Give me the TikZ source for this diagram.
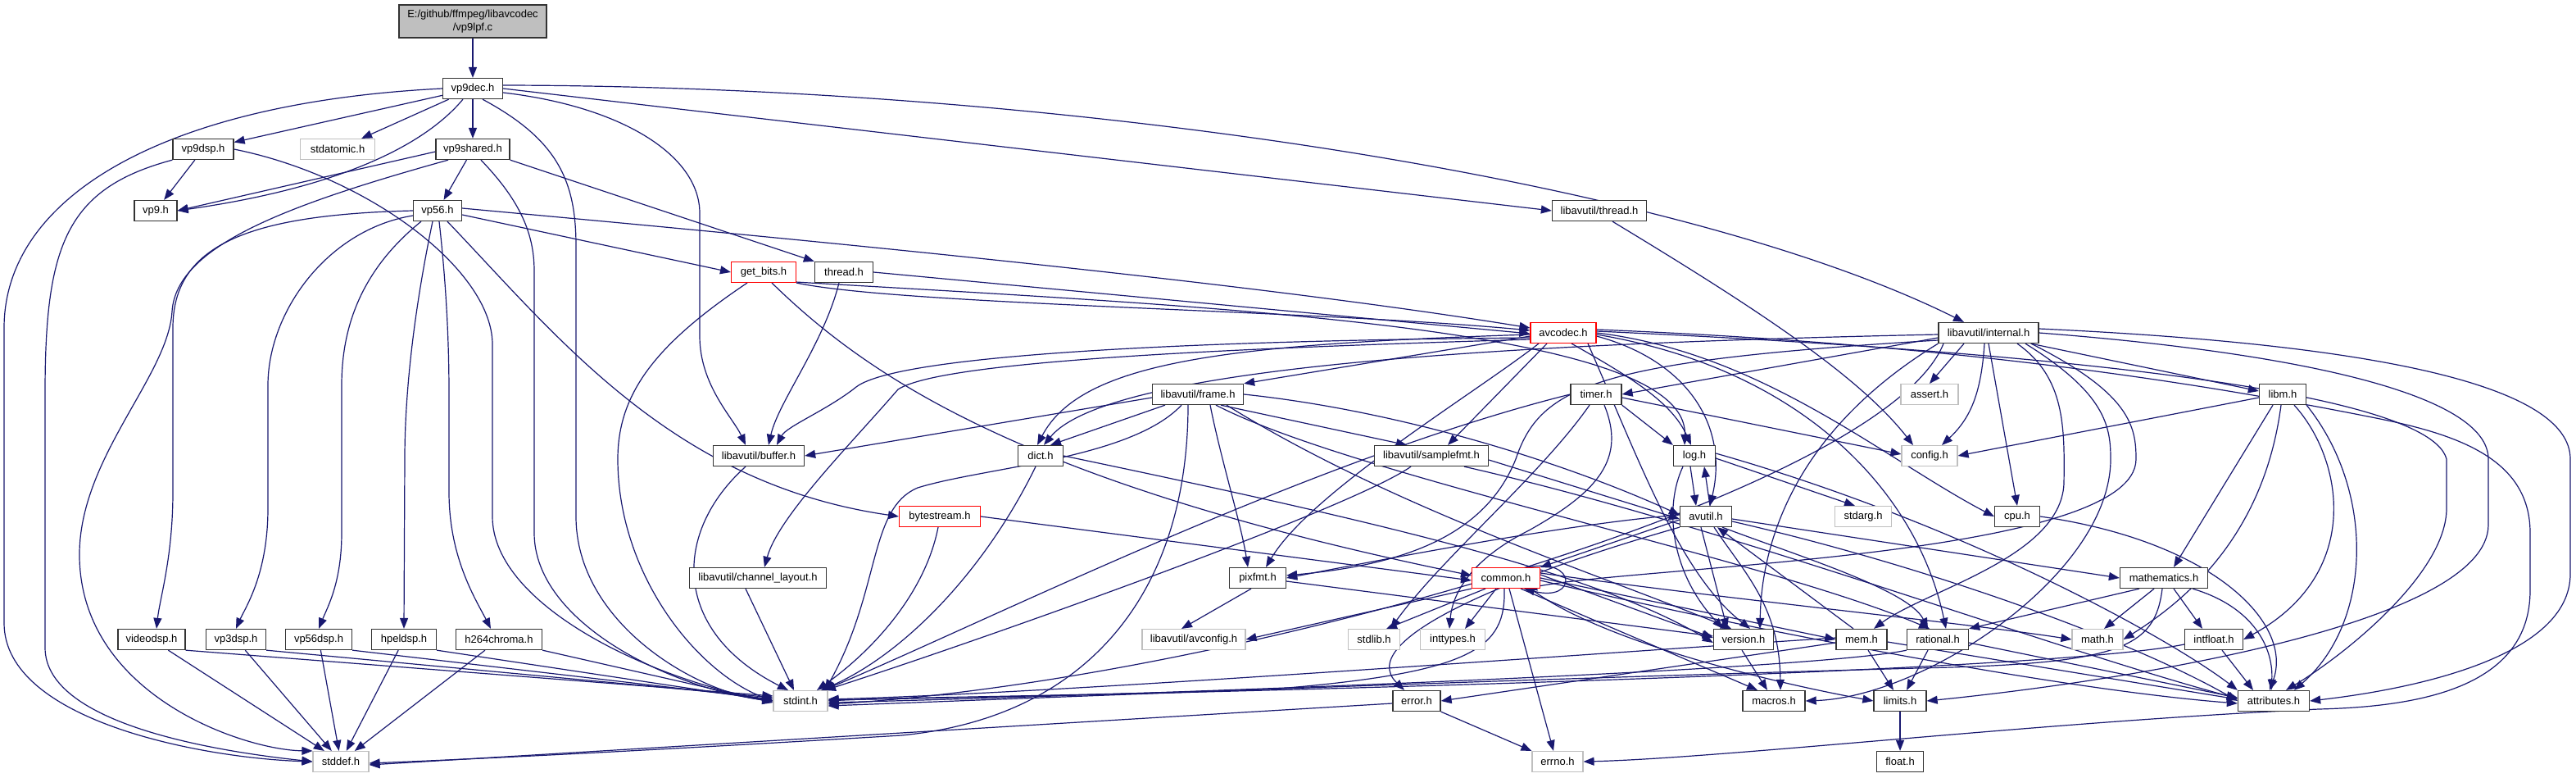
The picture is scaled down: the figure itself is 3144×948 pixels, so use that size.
\documentclass[tikz,border=0pt]{standalone}
\usepackage{fontspec}
\setmainfont{Liberation Sans}
\usetikzlibrary{arrows.meta}
\definecolor{edgeblue}{HTML}{191970}
\definecolor{boxgray}{HTML}{BFBFBF}
\pgfdeclarelayer{bg}
\pgfsetlayers{bg,main}
\newcommand\lab{\fontsize{13}{16}\selectfont}
\tikzset{
 nb/.style={draw=black!80, line width=1.3pt, fill=white, minimum height=25pt, inner sep=0pt, font=\lab},
 ng/.style={nb, draw=boxgray, line width=1.1pt},
 nr/.style={nb, draw=red, line width=1.1pt},
 edg/.style={draw=edgeblue, line width=1.2pt, -{Triangle[length=13pt,width=10pt]}},
}
\begin{document}
\begin{tikzpicture}[x=1pt,y=-1pt]
\useasboundingbox (0,0) rectangle (3144,948);
\node[nb, fill=boxgray, minimum width=180pt, minimum height=40pt, align=center] (root) at (577,26) {E:/github/ffmpeg/libavcodec\\/vp9lpf.c};
\node[nb, minimum width=73pt] (vp9dec) at (577,108) {vp9dec.h};
\node[nb, minimum width=74pt] (vp9dsp) at (248,182) {vp9dsp.h};
\node[ng, minimum width=91pt] (stdatomic) at (412,182) {stdatomic.h};
\node[nb, minimum width=90pt] (vp9shared) at (577,182) {vp9shared.h};
\node[nb, minimum width=52pt] (vp9) at (190,257) {vp9.h};
\node[nb, minimum width=59pt] (vp56) at (534,257) {vp56.h};
\node[nb, minimum width=115pt] (lthread) at (1952,257) {libavutil/thread.h};
\node[nr, minimum width=79pt] (getbits) at (932,332) {get\_bits.h};
\node[nb, minimum width=71pt] (thread) at (1030,332) {thread.h};
\node[nr, minimum width=80pt] (avcodec) at (1908,406) {avcodec.h};
\node[nb, minimum width=122pt] (internal) at (2427,406) {libavutil/internal.h};
\node[nb, minimum width=111pt] (frame) at (1462,481) {libavutil/frame.h};
\node[nb, minimum width=62pt] (timer) at (1948,481) {timer.h};
\node[ng, minimum width=70pt] (assert) at (2355,481) {assert.h};
\node[nb, minimum width=57pt] (libm) at (2786,481) {libm.h};
\node[nb, minimum width=111pt] (buffer) at (926,556) {libavutil/buffer.h};
\node[nb, minimum width=55pt] (dict) at (1270,556) {dict.h};
\node[nb, minimum width=139pt] (samplefmt) at (1747,556) {libavutil/samplefmt.h};
\node[nb, minimum width=51pt] (log) at (2068,556) {log.h};
\node[ng, minimum width=68pt] (config) at (2355,556) {config.h};
\node[nr, minimum width=99pt] (bytestream) at (1147,630) {bytestream.h};
\node[nb, minimum width=63pt] (avutil) at (2082,630) {avutil.h};
\node[ng, minimum width=69pt] (stdarg) at (2274,630) {stdarg.h};
\node[nb, minimum width=55pt] (cpu) at (2462,630) {cpu.h};
\node[nb, minimum width=167pt] (chlayout) at (925,705) {libavutil/channel\_layout.h};
\node[nb, minimum width=69pt] (pixfmt) at (1535,705) {pixfmt.h};
\node[nr, minimum width=83pt] (common) at (1838,705) {common.h};
\node[nb, minimum width=107pt] (mathematics) at (2641,705) {mathematics.h};
\node[nb, minimum width=82pt] (videodsp) at (185,780) {videodsp.h};
\node[nb, minimum width=73pt] (vp3dsp) at (288,780) {vp3dsp.h};
\node[nb, minimum width=81pt] (vp56dsp) at (389,780) {vp56dsp.h};
\node[nb, minimum width=79pt] (hpeldsp) at (493,780) {hpeldsp.h};
\node[nb, minimum width=105pt] (h264chroma) at (609,780) {h264chroma.h};
\node[ng, minimum width=126pt] (avconfig) at (1457,780) {libavutil/avconfig.h};
\node[ng, minimum width=63pt] (stdlib) at (1677,780) {stdlib.h};
\node[ng, minimum width=79pt] (inttypes) at (1773,780) {inttypes.h};
\node[nb, minimum width=73pt] (version) at (2128,780) {version.h};
\node[nb, minimum width=62pt] (mem) at (2272,780) {mem.h};
\node[nb, minimum width=75pt] (rational) at (2365,780) {rational.h};
\node[ng, minimum width=62pt] (math) at (2560,780) {math.h};
\node[nb, minimum width=71pt] (intfloat) at (2702,780) {intfloat.h};
\node[ng, minimum width=66pt] (stdint) at (977,855) {stdint.h};
\node[nb, minimum width=58pt] (error) at (1729,855) {error.h};
\node[nb, minimum width=76pt] (macros) at (2165,855) {macros.h};
\node[nb, minimum width=64pt] (limits) at (2319,855) {limits.h};
\node[nb, minimum width=87pt] (attributes) at (2775,855) {attributes.h};
\node[ng, minimum width=68pt] (stddef) at (416,929) {stddef.h};
\node[ng, minimum width=62pt] (errno) at (1901,929) {errno.h};
\node[nb, minimum width=57pt] (float) at (2319,929) {float.h};

\begin{pgfonlayer}{bg}
\fill[white] (0,0) rectangle (3144,948);
% root
\draw[edg] (root) -- (vp9dec);
% vp9dec
\draw[edg] (vp9dec) -- (vp9dsp);
\draw[edg] (vp9dec) -- (stdatomic);
\draw[edg] (vp9dec) -- (vp9shared);
\draw[edg] ([xshift=-12pt]vp9dec.south) .. controls (520,175) and (420,228) .. (vp9.east);
\draw[edg] (vp9dec.west) .. controls (200,125) and (5,240) .. (5,400) -- (5,760) .. controls (5,880) and (250,925) .. (stddef.west);
\draw[edg] ([xshift=12pt]vp9dec.south) .. controls (680,170) and (703,220) .. (703,300) -- (703,630) .. controls (703,760) and (850,845) .. (stdint.west);
\draw[edg] ([yshift=-5pt]vp9dec.east) .. controls (760,130) and (854,190) .. (854,260) -- (854,410) .. controls (854,470) and (895,510) .. ([xshift=-16pt]buffer.north);
\draw[edg] (vp9dec.east) -- (lthread.west);
\draw[edg] ([yshift=4pt]vp9dec.east) .. controls (1300,105) and (2050,220) .. ([xshift=-30pt]internal.north);
% vp9dsp
\draw[edg] (vp9dsp) -- (vp9);
\draw[edg] (vp9dsp.south west) .. controls (80,230) and (55,300) .. (55,480) -- (55,790) .. controls (55,880) and (250,915) .. (stddef.west);
\draw[edg] (vp9dsp.east) .. controls (450,215) and (601,330) .. (601,420) -- (601,630) .. controls (601,740) and (800,830) .. (stdint.west);
% vp9shared
\draw[edg] ([yshift=-3pt]vp9shared.west) -- (vp9.east);
\draw[edg] (vp9shared) -- (vp56);
\draw[edg] (vp9shared.south east) -- (thread.north west);
\draw[edg] ([xshift=10pt]vp9shared.south) .. controls (630,240) and (652,280) .. (652,330) -- (652,650) .. controls (652,760) and (820,840) .. (stdint.west);
\draw[edg] ([xshift=-30pt]vp9shared.south) .. controls (350,250) and (215,300) .. (210,380) .. controls (205,460) and (95,560) .. (97,680) .. controls (100,850) and (300,915) .. (stddef.north west);
% vp56
\draw[edg] (vp56.west) .. controls (300,262) and (211,300) .. (211,400) -- (211,600) .. controls (211,680) and (195,730) .. ([xshift=6pt]videodsp.north);
\draw[edg] ([yshift=-6pt]vp56.west) .. controls (400,280) and (327,380) .. (327,470) -- (327,620) .. controls (327,700) and (300,740) .. (vp3dsp.north);
\draw[edg] ([xshift=-20pt]vp56.south) .. controls (440,330) and (417,400) .. (417,470) -- (417,650) .. controls (417,710) and (400,740) .. (vp56dsp.north);
\draw[edg] ([xshift=-6pt]vp56.south) .. controls (505,380) and (494,480) .. (494,560) -- (hpeldsp.north);
\draw[edg] ([xshift=2pt]vp56.south) .. controls (545,350) and (548,420) .. (548,480) -- (548,600) .. controls (548,680) and (580,730) .. ([xshift=-10pt]h264chroma.north);
\draw[edg] ([xshift=12pt]vp56.south) .. controls (680,410) and (820,590) .. (bytestream.west);
\draw[edg] ([yshift=-5pt]vp56.east) -- (getbits.west);
\draw[edg] ([yshift=3pt]vp56.east) .. controls (900,285) and (1500,340) .. ([yshift=6pt]avcodec.west);
% dsp boxes
\foreach \n/\s in {videodsp/6,vp3dsp/4,vp56dsp/2,hpeldsp/0,h264chroma/-2}{
  \draw[edg] (\n) -- (stddef);
  \draw[edg] (\n.south east) -- ([yshift=\s pt]stdint.west);
}
% get_bits
\draw[edg] ([xshift=-20pt]getbits.south) .. controls (800,420) and (754,480) .. (754,560) .. controls (754,700) and (850,820) .. (stdint.west);
\draw[edg] ([xshift=10pt]getbits.south) .. controls (1060,460) and (1250,590) .. ([yshift=3pt]common.west);
\draw[edg] (getbits.south east) .. controls (1100,372) and (1600,378) .. ([yshift=3pt]avcodec.west);
\draw[edg] ([yshift=1pt]getbits.south east) .. controls (1500,375) and (2060,400) .. ([xshift=-12pt]log.north);
% thread
\draw[edg] ([xshift=-6pt]thread.south) .. controls (1005,420) and (950,490) .. ([xshift=12pt]buffer.north);
\draw[edg] (thread.east) -- ([yshift=-1pt]avcodec.west);
% libavutil/thread.h
\draw[edg] ([xshift=16pt]lthread.south) .. controls (2150,380) and (2270,460) .. ([xshift=-20pt]config.north);
% bytestream
\draw[edg] ([xshift=-2pt]bytestream.south) .. controls (1130,720) and (1070,790) .. ([xshift=20pt]stdint.north);
\draw[edg] (bytestream.east) -- ([yshift=-3pt]common.west);
% buffer, channel_layout, dict
\draw[edg] ([xshift=-16pt]buffer.south) .. controls (820,650) and (820,770) .. ([xshift=-15pt]stdint.north);
\draw[edg] ([xshift=-15pt]chlayout.south) -- ([xshift=-8pt]stdint.north);
\draw[edg] ([xshift=-6pt]dict.south) .. controls (1200,700) and (1100,800) .. ([xshift=25pt]stdint.north);
\draw[edg] (dict.east) .. controls (1700,640) and (1950,700) .. ([yshift=-4pt]version.west);
% frame
\draw[edg] ([yshift=-4pt]frame.west) -- (buffer.east);
\draw[edg] ([xshift=-40pt]frame.south) -- ([xshift=12pt]dict.north);
\draw[edg] ([xshift=15pt]frame.south) .. controls (1490,560) and (1515,640) .. ([xshift=-12pt]pixfmt.north);
\draw[edg] ([xshift=28pt]frame.south) -- ([xshift=-30pt]samplefmt.north);
\draw[edg] (frame.east) .. controls (1700,500) and (1900,560) .. ([yshift=2pt]avutil.west);
\draw[edg] ([xshift=22pt]frame.south) .. controls (1650,580) and (2150,680) .. ([xshift=-10pt]rational.north);
\draw[edg] ([xshift=35pt]frame.south) .. controls (1700,620) and (1950,700) .. ([xshift=-15pt]version.north);
\draw[edg] ([xshift=-20pt]frame.south) .. controls (1380,560) and (1200,570) .. (1120,595) .. controls (1060,620) and (1075,720) .. ([xshift=30pt]stdint.north);
\draw[edg] ([xshift=-12pt]frame.south) .. controls (1450,720) and (1330,875) .. (1100,897) .. controls (800,915) and (600,925) .. ([yshift=-2pt]stddef.east);
% avcodec
\draw[edg] ([yshift=-4pt]avcodec.west) -- (frame.north east);
\draw[edg] ([xshift=-20pt]avcodec.south) -- ([xshift=20pt]samplefmt.north);
\draw[edg] ([yshift=-2pt]avcodec.west) .. controls (1500,420) and (1320,440) .. ([xshift=-4pt]dict.north);
\draw[edg] ([yshift=-6pt]avcodec.west) .. controls (1500,415) and (1100,430) .. (1045,472) .. controls (1010,500) and (960,520) .. ([xshift=22pt]buffer.north);
\draw[edg] ([yshift=-8pt]avcodec.west) .. controls (1500,425) and (1150,440) .. (1096,475) .. controls (1040,540) and (950,630) .. ([xshift=8pt]chlayout.north);
\draw[edg] ([xshift=-30pt]avcodec.south) .. controls (1800,480) and (1600,600) .. ([xshift=10pt]pixfmt.north);
\draw[edg] ([xshift=10pt]avcodec.south) .. controls (1990,460) and (2040,490) .. ([xshift=-4pt]log.north);
\draw[edg] ([yshift=-4pt]avcodec.east) .. controls (2060,440) and (2110,520) .. ([xshift=5pt]avutil.north);
\draw[edg] (avcodec.east) .. controls (2150,430) and (2300,560) .. (cpu.west);
\draw[edg] ([yshift=-2pt]avcodec.east) .. controls (2200,450) and (2340,600) .. ([xshift=10pt]rational.north);
\draw[edg] ([yshift=2pt]avcodec.east) .. controls (2300,420) and (2960,460) .. (2986,560) -- (2986,620) .. controls (2986,700) and (2860,800) .. ([xshift=15pt]attributes.north);
\draw[edg] ([yshift=4pt]avcodec.east) .. controls (2400,420) and (2700,470) .. (2900,510) .. controls (3000,530) and (3088,560) .. (3088,650) -- (3088,720) .. controls (3088,840) and (2950,862) .. (2830,865) .. controls (2500,880) and (2100,925) .. (errno.east);
\draw[edg] ([xshift=30pt]avcodec.south) .. controls (2000,560) and (2050,700) .. ([xshift=8pt]version.north);
% internal
\draw[edg] ([xshift=-30pt]internal.south) -- (assert.north);
\draw[edg] ([xshift=-5pt]internal.south) .. controls (2418,480) and (2405,510) .. ([xshift=15pt]config.north);
\draw[edg] (internal.south) -- (cpu.north);
\draw[edg] ([xshift=-10pt]internal.south east) -- ([yshift=4pt]libm.west);
\draw[edg] ([yshift=-6pt]internal.west) -- (timer.east);
\draw[edg] ([yshift=-2pt]internal.west) .. controls (1800,420) and (1350,450) .. ([xshift=4pt]dict.north);
\draw[edg] ([yshift=-9pt]internal.west) .. controls (1950,440) and (1880,470) .. (1850,560) .. controls (1810,660) and (1700,690) .. ([yshift=3pt]pixfmt.east);
\draw[edg] ([xshift=35pt]internal.south) .. controls (2520,460) and (2520,520) .. (2519,590) .. controls (2515,680) and (2350,720) .. ([xshift=15pt]mem.north);
\draw[edg] ([xshift=45pt]internal.south) .. controls (2570,480) and (2576,520) .. (2576,560) .. controls (2576,700) and (2350,850) .. (macros.east);
\draw[edg] ([xshift=52pt]internal.south) .. controls (2600,480) and (2607,520) .. (2607,560) .. controls (2607,680) and (2000,690) .. ([xshift=25pt]common.south);
\draw[edg] (internal.south west) .. controls (2200,520) and (2150,650) .. ([xshift=20pt]version.north);
\draw[edg] ([yshift=5pt]internal.east) .. controls (2900,420) and (3137,470) .. (3137,560) -- (3137,700) .. controls (3137,800) and (2950,840) .. (attributes.east);
\draw[edg] (internal.east) .. controls (2800,430) and (3037,480) .. (3037,560) -- (3037,640) .. controls (3037,760) and (2600,830) .. (limits.east);
\draw[edg] ([xshift=-55pt]internal.south) .. controls (2300,600) and (1500,830) .. ([yshift=-4pt]stdint.east);
% timer
\draw[edg] ([yshift=-4pt]timer.east) -- ([yshift=2pt]config.west);
\draw[edg] (timer.south east) -- (log.north west);
\draw[edg] ([xshift=-8pt]timer.south) .. controls (1880,580) and (1760,680) .. ([xshift=20pt]stdlib.north);
\draw[edg] ([xshift=10pt]timer.south) .. controls (1985,560) and (1950,600) .. (1866,647) .. controls (1800,680) and (1773,720) .. ([xshift=-4pt]inttypes.north);
\draw[edg] (timer.west) .. controls (1600,560) and (1200,760) .. ([xshift=28pt]stdint.north);
% samplefmt
\draw[edg] ([yshift=-5pt]samplefmt.east) -- ([yshift=-3pt]avutil.west);
\draw[edg] ([xshift=40pt]samplefmt.south) .. controls (2100,640) and (2500,790) .. ([yshift=3pt]attributes.west);
\draw[edg] ([xshift=-25pt]samplefmt.south) .. controls (1650,620) and (1200,780) .. ([xshift=30pt]stdint.north);
% log
\draw[edg] ([xshift=-5pt]log.south) -- ([xshift=-12pt]avutil.north);
\draw[edg] ([xshift=5pt]avutil.north) -- ([xshift=12pt]log.south);
\draw[edg] ([yshift=-3pt]log.east) -- ([xshift=-10pt]stdarg.north);
\draw[edg] ([xshift=-14pt]log.south) .. controls (2030,620) and (2040,700) .. ([xshift=-25pt]version.north);
\draw[edg] ([yshift=3pt]log.east) .. controls (2400,640) and (2650,780) .. (attributes.north west);
% avutil
\draw[edg] ([yshift=-4pt]avutil.west) -- (common.north east);
\draw[edg] ([yshift=2pt]avutil.west) .. controls (1900,640) and (1650,690) .. (pixfmt.east);
\draw[edg] ([yshift=-3pt]avutil.east) -- (mathematics.west);
\draw[edg] ([xshift=-6pt]avutil.south) -- ([xshift=-20pt]version.north);
\draw[edg] ([xshift=10pt]avutil.south) .. controls (2130,700) and (2172,740) .. ([xshift=8pt]macros.north);
\draw[edg] ([xshift=20pt]avutil.south) .. controls (2200,680) and (2330,720) .. ([xshift=-12pt]rational.north);
\draw[edg] (avutil.south west) .. controls (1850,700) and (1650,780) .. ([xshift=-15pt]error.north);
\draw[edg] ([yshift=-6pt]avutil.east) .. controls (2350,690) and (2600,780) .. (attributes.west);
% cpu
\draw[edg] (cpu.east) .. controls (2700,660) and (2800,760) .. ([xshift=-5pt]attributes.north);
% common
\draw[edg] ([xshift=-15pt]common.north east) .. controls (1925,680) and (1925,735) .. ([xshift=-20pt]common.south east);
\draw[edg] ([xshift=-25pt]common.south) -- ([xshift=15pt]stdlib.north);
\draw[edg] ([xshift=-12pt]common.south) -- ([xshift=15pt]inttypes.north);
\draw[edg] ([xshift=4pt]common.south) -- ([xshift=-5pt]errno.north);
\draw[edg] ([xshift=-2pt]common.south) .. controls (1838,790) and (1800,820) .. (1560,840) .. controls (1300,850) and (1100,850) .. (stdint.east);
\draw[edg] ([yshift=4pt]common.east) -- ([yshift=2pt]version.west);
\draw[edg] (common.east) -- (mem.west);
\draw[edg] ([xshift=18pt]common.south) -- ([xshift=-20pt]macros.north);
\draw[edg] ([xshift=30pt]common.south) .. controls (1950,780) and (2150,830) .. (limits.west);
\draw[edg] ([yshift=6pt]common.east) .. controls (2100,730) and (2400,760) .. (math.west);
\draw[edg] ([yshift=-3pt]common.east) .. controls (2100,760) and (2500,840) .. ([yshift=-3pt]attributes.west);
\draw[edg] (common.south west) -- (avconfig.east);
% mem
\draw[edg] ([yshift=-4pt]mem.west) -- (error.east);
\draw[edg] ([xshift=8pt]mem.south) -- ([xshift=-8pt]limits.north);
\draw[edg] ([yshift=-3pt]mem.east) -- ([yshift=2pt]attributes.west);
\draw[edg] ([xshift=-10pt]mem.north) -- ([xshift=14pt]avutil.south);
\draw[edg] ([yshift=2pt]mem.west) .. controls (1900,800) and (1300,845) .. ([yshift=2pt]stdint.east);
% rational
\draw[edg] ([xshift=-12pt]rational.south) -- ([xshift=8pt]limits.north);
\draw[edg] ([yshift=-4pt]rational.east) -- ([yshift=4pt]attributes.west);
\draw[edg] (rational.south west) .. controls (2200,820) and (1300,850) .. ([yshift=-2pt]stdint.east);
% mathematics
\draw[edg] ([xshift=-30pt]mathematics.south) -- (rational.north east);
\draw[edg] ([xshift=-12pt]mathematics.south) -- ([xshift=8pt]math.north);
\draw[edg] ([xshift=12pt]mathematics.south) -- ([xshift=-14pt]intfloat.north);
\draw[edg] ([xshift=35pt]mathematics.south) .. controls (2750,740) and (2775,790) .. ([xshift=-3pt]attributes.north);
\draw[edg] ([xshift=-2pt]mathematics.south) .. controls (2630,790) and (2590,810) .. (2340,815) .. controls (1800,830) and (1300,850) .. ([yshift=-6pt]stdint.east);
% intfloat
\draw[edg] ([xshift=10pt]intfloat.south) -- ([xshift=-25pt]attributes.north);
\draw[edg] ([yshift=-6pt]intfloat.west) .. controls (2500,820) and (1500,845) .. ([yshift=1pt]stdint.east);
% libm
\draw[edg] ([yshift=-4pt]libm.west) -- (config.east);
\draw[edg] ([xshift=-12pt]libm.south) -- ([xshift=12pt]mathematics.north);
\draw[edg] ([xshift=-2pt]libm.south) .. controls (2770,600) and (2720,700) .. (math.east);
\draw[edg] ([xshift=14pt]libm.south) .. controls (2860,560) and (2885,700) .. (intfloat.east);
\draw[edg] (libm.south east) .. controls (2900,600) and (2895,760) .. ([xshift=25pt]attributes.north);
% others
\draw[edg] ([xshift=-2pt]version.south) -- ([xshift=-8pt]macros.north);
\draw[edg] (error.south east) -- (errno.north west);
\draw[edg] ([yshift=-3pt]error.west) -- ([yshift=-4pt]stddef.east);
\draw[edg] (limits) -- (float);
\draw[edg] ([xshift=-8pt]pixfmt.south) -- ([xshift=-15pt]avconfig.north);
\draw[edg] ([yshift=-4pt]pixfmt.east) -- ([yshift=4pt]version.west);
\end{pgfonlayer}
\end{tikzpicture}
\end{document}
